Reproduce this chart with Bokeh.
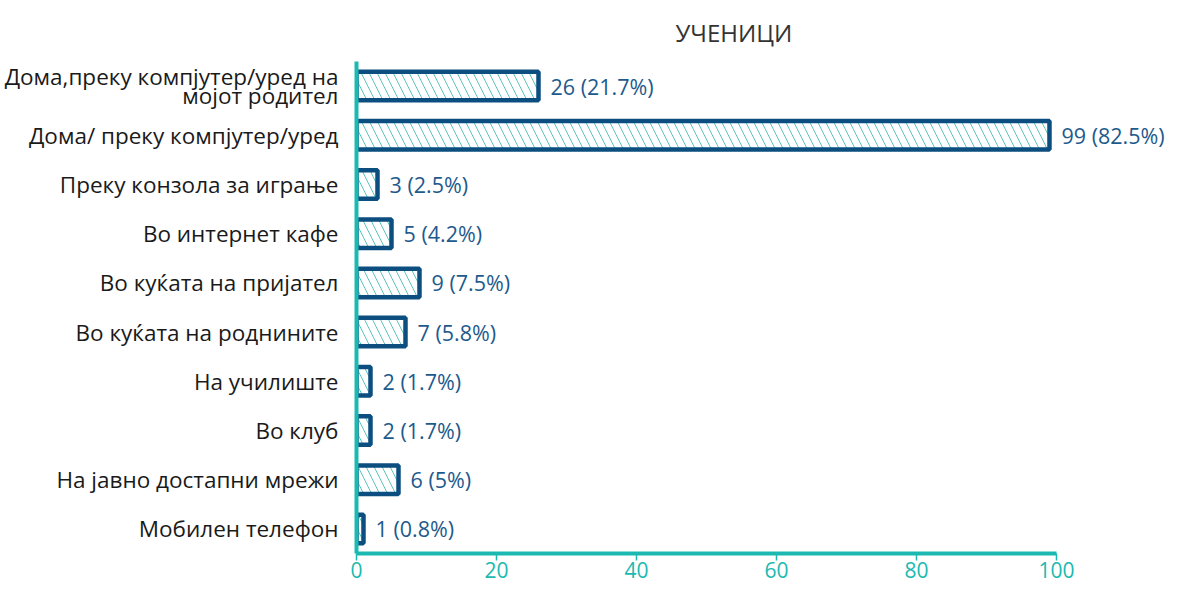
from bokeh.plotting import figure
from bokeh.models import FactorRange, Range1d, ColumnDataSource, LinearAxis, FixedTicker, Title
from bokeh.core.properties import value
from bokeh.embed import file_html
from bokeh.resources import INLINE

categories = [
    "Дома,преку компјутер/уред на\nмојот родител",
    "Дома/ преку компјутер/уред",
    "Преку конзола за играње",
    "Во интернет кафе",
    "Во куќата на пријател",
    "Во куќата на роднините",
    "На училиште",
    "Во клуб",
    "На јавно достапни мрежи",
    "Мобилен телефон",
]
counts = [26, 99, 3, 5, 9, 7, 2, 2, 6, 1]
percents = ["21.7", "82.5", "2.5", "4.2", "7.5", "5.8", "1.7", "1.7", "5", "0.8"]
x_ticks = [0, 20, 40, 60, 80, 100]
title_text = "УЧЕНИЦИ"

labels = [f"{c} ({p}%)" for c, p in zip(counts, percents)]

NAVY = "#0D4E80"
TEAL = "#1BB9B1"
HATCH = "#5CC6C1"
FONT = "Open Sans"

src = ColumnDataSource(dict(cat=categories, val=counts, lab=labels))

p = figure(
    width=1169, height=589,
    y_range=FactorRange(factors=list(reversed(categories))),
    x_range=Range1d(0, 115.86),
    output_backend="svg", toolbar_location=None,
    x_axis_location=None,
    min_border_left=356, min_border_right=2, min_border_top=54, min_border_bottom=36,
)
p.outline_line_color = None
p.grid.grid_line_color = None
p.background_fill_color = "white"

p.hbar(y="cat", right="val", left=0, height=0.58, source=src,
       fill_color="white", line_color=NAVY, line_width=4.5,
       hatch_pattern="\\", hatch_color=HATCH, hatch_scale=16, hatch_weight=1)

p.text(x="val", y="cat", text="lab", source=src, x_offset=12,
       text_align="left", text_baseline="middle",
       text_font=value(FONT), text_font_size="21.5px", text_color="#1D5A8C")

xa = LinearAxis(ticker=FixedTicker(ticks=x_ticks), bounds=(0, 100))
xa.axis_line_color = TEAL
xa.axis_line_width = 4
xa.major_tick_line_color = TEAL
xa.major_tick_line_width = 1.5
xa.major_tick_out = 7
xa.major_tick_in = 0
xa.minor_tick_line_color = None
xa.major_label_text_color = TEAL
xa.major_label_text_font = FONT
xa.major_label_text_font_size = "21px"
xa.major_label_standoff = 1
p.add_layout(xa, "below")

ya = p.yaxis[0]
ya.axis_line_color = TEAL
ya.axis_line_width = 4
ya.major_tick_line_color = None
ya.minor_tick_line_color = None
ya.major_label_text_color = "#1a1a1a"
ya.major_label_text_font = FONT
ya.major_label_text_font_size = "22.5px"
ya.major_label_text_line_height = 0.6
ya.major_label_standoff = 12

t = Title(text=title_text, align="left", offset=319, standoff=26,
          text_font=FONT, text_font_size="24px", text_font_style="normal",
          text_color="#333333")
p.add_layout(t, "above")

open("out.html", "w").write(file_html(p, INLINE))
